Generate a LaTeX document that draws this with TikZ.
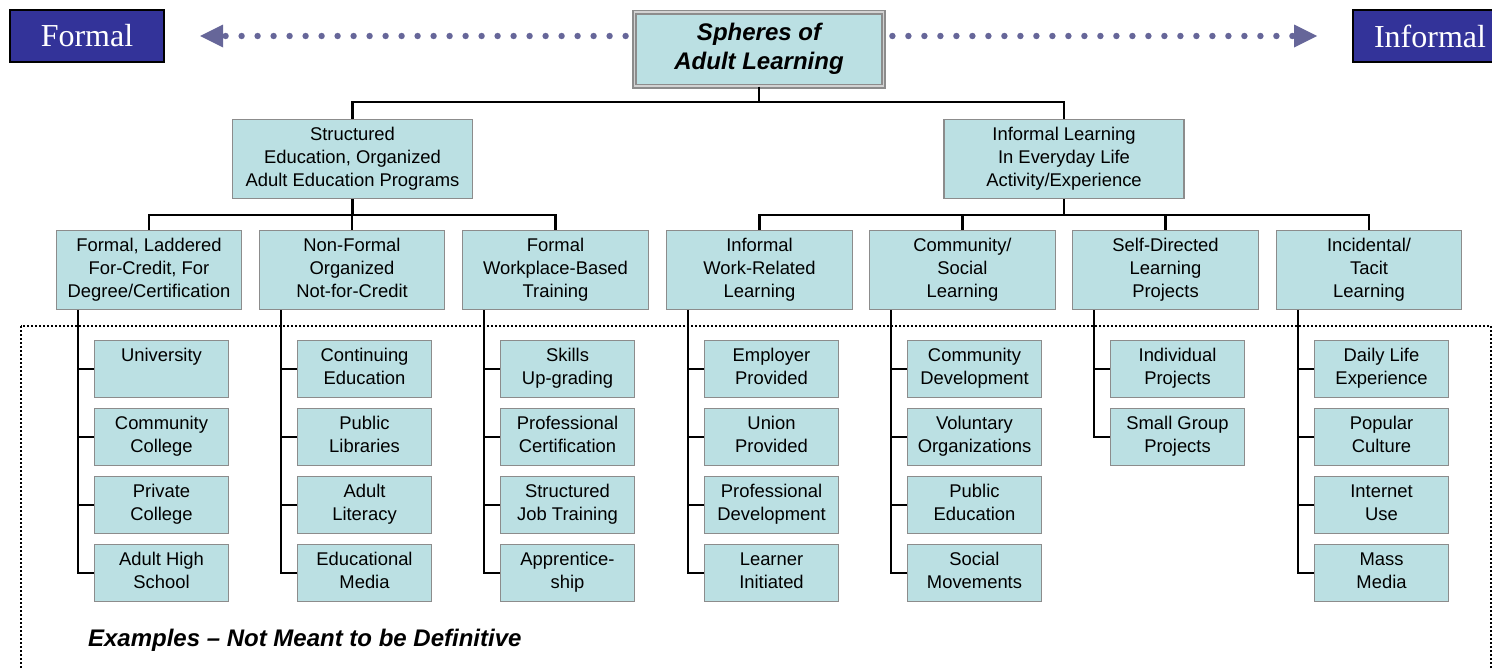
\documentclass[tikz,border=0pt]{standalone}
\usepackage{fontspec}
\setmainfont{Liberation Sans}
\newfontfamily\sidefont{Liberation Serif}
\usetikzlibrary{arrows.meta}
\definecolor{boxfill}{HTML}{BBE0E3}
\definecolor{boxline}{HTML}{8C8C8C}
\definecolor{sidefill}{HTML}{333399}
\definecolor{arrowcol}{HTML}{666699}

\begin{document}
\begin{tikzpicture}[x=0.5pt,y=-0.5pt,
    every node/.style={font=\fontsize{9.2}{11.5}\selectfont, align=center},
    box/.style={draw=boxline, fill=boxfill, line width=0.6pt, inner sep=0pt,
        execute at begin node=\rule{0pt}{12.5pt}, execute at end node=\rule[-2.2pt]{0pt}{2.2pt}},
    sphere/.style={draw=boxline, fill=boxfill, line width=0.9pt, double=lightgray!70, double distance=0.7pt,
        minimum width=124.5pt, minimum height=37pt, inner sep=0pt, font=\bfseries\itshape\fontsize{12}{14.5}\selectfont},
    lvlone/.style={box, minimum width=120pt, minimum height=39.4pt},
    lvltwo/.style={box, minimum width=92.7pt, minimum height=39.4pt},
    leafbox/.style={box, minimum width=67.2pt, minimum height=28.6pt},
    side/.style={draw=black, fill=sidefill, line width=1pt, text=white, minimum width=77pt, minimum height=26pt,
        inner sep=0pt, font=\sidefont\fontsize{16}{18}\selectfont},
    link/.style={line width=1.1pt},
    flow/.style={draw=arrowcol, line width=3.2pt, line cap=round, dash pattern=on 0pt off 8pt,
        -{Triangle[length=11.5pt,width=11.5pt,line width=0pt]}},
    frame/.style={line width=0.9pt, dash pattern=on 0.9pt off 1.1pt},
]
\useasboundingbox (0,0) rectangle (1492,669);
\clip (0,0) rectangle (1492,669);

% header: formal <-> informal
\node[side] (formal) at (87,36) {Formal};
\node[side] (informal) at (1430,36) {Informal};
\node[sphere] (title) at (759,49) {Spheres of\\Adult Learning};
\draw[flow] ([xshift=-4pt]title.west |- formal.east) -- ([xshift=17.5pt]formal.east);
\draw[flow] ([xshift=4pt]title.east |- informal.west) -- ([xshift=-17.5pt]informal.west);

% examples area
\draw[frame] (21,326) rectangle (1491,720);
\node[anchor=west, font=\bfseries\itshape\fontsize{12}{14}\selectfont] (note) at (81,640)
    {Examples -- Not Meant to be Definitive};

% two main spheres
\node[lvlone] (struct) at (352.5,159) {Structured\\Education, Organized\\Adult Education Programs};
\node[lvlone] (infl) at (1064,159) {Informal Learning\\In Everyday Life\\Activity/Experience};

% second level
\node[lvltwo] (c1) at (149,270) {Formal, Laddered\\For-Credit, For\\Degree/Certification};
\node[lvltwo] (c2) at (352,270) {Non-Formal\\Organized\\Not-for-Credit};
\node[lvltwo] (c3) at (555.5,270) {Formal\\Workplace-Based\\Training};
\node[lvltwo] (c4) at (759.5,270) {Informal\\Work-Related\\Learning};
\node[lvltwo] (c5) at (962.5,270) {Community/\\Social\\Learning};
\node[lvltwo] (c6) at (1165.5,270) {Self-Directed\\Learning\\Projects};
\node[lvltwo] (c7) at (1369,270) {Incidental/\\Tacit\\Learning};

% examples per column
\node[leafbox] (c1a) at (161.5,369) {University\\~};
\node[leafbox] (c1b) at (161.5,437) {Community\\College};
\node[leafbox] (c1c) at (161.5,505) {Private\\College};
\node[leafbox] (c1d) at (161.5,573) {Adult High\\School};

\node[leafbox] (c2a) at (364.5,369) {Continuing\\Education};
\node[leafbox] (c2b) at (364.5,437) {Public\\Libraries};
\node[leafbox] (c2c) at (364.5,505) {Adult\\Literacy};
\node[leafbox] (c2d) at (364.5,573) {Educational\\Media};

\node[leafbox] (c3a) at (567.5,369) {Skills\\Up-grading};
\node[leafbox] (c3b) at (567.5,437) {Professional\\Certification};
\node[leafbox] (c3c) at (567.5,505) {Structured\\Job Training};
\node[leafbox] (c3d) at (567.5,573) {Apprentice-\\ship};

\node[leafbox] (c4a) at (771.5,369) {Employer\\Provided};
\node[leafbox] (c4b) at (771.5,437) {Union\\Provided};
\node[leafbox] (c4c) at (771.5,505) {Professional\\Development};
\node[leafbox] (c4d) at (771.5,573) {Learner\\Initiated};

\node[leafbox] (c5a) at (974.5,369) {Community\\Development};
\node[leafbox] (c5b) at (974.5,437) {Voluntary\\Organizations};
\node[leafbox] (c5c) at (974.5,505) {Public\\Education};
\node[leafbox] (c5d) at (974.5,573) {Social\\Movements};

\node[leafbox] (c6a) at (1177.5,369) {Individual\\Projects};
\node[leafbox] (c6b) at (1177.5,437) {Small Group\\Projects};

\node[leafbox] (c7a) at (1381.5,369) {Daily Life\\Experience};
\node[leafbox] (c7b) at (1381.5,437) {Popular\\Culture};
\node[leafbox] (c7c) at (1381.5,505) {Internet\\Use};
\node[leafbox] (c7d) at (1381.5,573) {Mass\\Media};

% tree lines
\draw[link] (title.south) -- ++(0,15) -| (struct.north);
\draw[link] (title.south) -- ++(0,15) -| (infl.north);
\draw[link] (struct.south) -- ++(0,16) -| (c1.north);
\draw[link] (struct.south) -- ++(0,16) -| (c2.north);
\draw[link] (struct.south) -- ++(0,16) -| (c3.north);
\draw[link] (infl.south) -- ++(0,16) -| (c4.north);
\draw[link] (infl.south) -- ++(0,16) -| (c5.north);
\draw[link] (infl.south) -- ++(0,16) -| (c6.north);
\draw[link] (infl.south) -- ++(0,16) -| (c7.north);

\draw[link] ([xshift=11pt]c1.south west) |- (c1d.west)
    (c1a.west) -- ++(-16,0) (c1b.west) -- ++(-16,0) (c1c.west) -- ++(-16,0);
\draw[link] ([xshift=11pt]c2.south west) |- (c2d.west)
    (c2a.west) -- ++(-16,0) (c2b.west) -- ++(-16,0) (c2c.west) -- ++(-16,0);
\draw[link] ([xshift=11pt]c3.south west) |- (c3d.west)
    (c3a.west) -- ++(-16,0) (c3b.west) -- ++(-16,0) (c3c.west) -- ++(-16,0);
\draw[link] ([xshift=11pt]c4.south west) |- (c4d.west)
    (c4a.west) -- ++(-16,0) (c4b.west) -- ++(-16,0) (c4c.west) -- ++(-16,0);
\draw[link] ([xshift=11pt]c5.south west) |- (c5d.west)
    (c5a.west) -- ++(-16,0) (c5b.west) -- ++(-16,0) (c5c.west) -- ++(-16,0);
\draw[link] ([xshift=11pt]c6.south west) |- (c6b.west)
    (c6a.west) -- ++(-16,0);
\draw[link] ([xshift=11pt]c7.south west) |- (c7d.west)
    (c7a.west) -- ++(-16,0) (c7b.west) -- ++(-16,0) (c7c.west) -- ++(-16,0);
\end{tikzpicture}
\end{document}
